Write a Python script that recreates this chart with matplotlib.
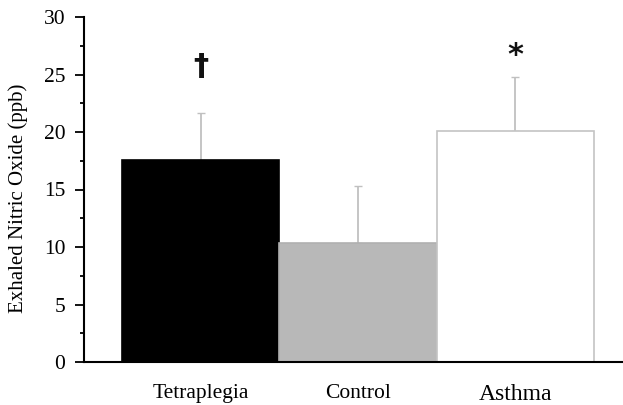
import matplotlib
matplotlib.use("Agg")
import matplotlib.pyplot as plt
from matplotlib.ticker import MultipleLocator

categories = ["Tetraplegia", "Control", "Asthma"]
means = [17.6, 10.35, 20.05]
sem_upper = [4.05, 4.95, 4.75]
markers = ["†", "", "*"]

plt.rcParams['font.family'] = ['Liberation Serif', 'DejaVu Serif']
fig = plt.figure(figsize=(6.23, 4.05), dpi=100)
ax = fig.add_axes([84/623, 43/405, (623-84)/623, 345/405])

x = list(range(len(categories)))
faces = ["black", "#b8b8b8", "white"]
edges = ["black", "#b0b0b0", "#c4c4c4"]
ax.bar(x, means, width=1.0, color=faces, edgecolor=edges, linewidth=1.2, zorder=2)
ax.errorbar(x, means, yerr=[[0]*3, sem_upper], fmt='none', ecolor='#c0c0c0',
            elinewidth=1.3, capsize=3, capthick=1.0, zorder=1)

offsets = {"†": 2.8, "*": 0.6}
for xi, m, s, mk in zip(x, means, sem_upper, markers):
    if mk:
        ax.text(xi, m + s + offsets[mk], mk, ha='center', va='bottom',
                fontsize=22, fontweight='bold',
                family=['DejaVu Sans'], color='#111111')

ax.set_xlim(-0.742, 2.685)
ax.set_ylim(0, 30)
ax.yaxis.set_major_locator(MultipleLocator(5))
ax.yaxis.set_minor_locator(MultipleLocator(2.5))
ax.set_xticks(x)
ax.set_xticklabels(categories, family=['Liberation Serif'], fontsize=15.5)
ax.get_xticklabels()[2].set_fontsize(17)
ax.tick_params(axis='x', length=0, pad=16)
ax.tick_params(axis='y', which='major', length=6.5, width=1.3, labelsize=15.5, pad=7)
ax.tick_params(axis='y', which='minor', length=3, width=1.3)
for lbl in ax.get_yticklabels():
    lbl.set_family(['Liberation Serif'])
ax.spines['top'].set_visible(False)
ax.spines['right'].set_visible(False)
ax.spines['left'].set_linewidth(1.5)
ax.spines['bottom'].set_linewidth(1.5)
ax.set_ylabel("Exhaled Nitric Oxide (ppb)", fontsize=15, family=['Liberation Serif'])
ax.yaxis.set_label_coords(-0.103, 0.474)

fig.savefig("out.png", dpi=100)
